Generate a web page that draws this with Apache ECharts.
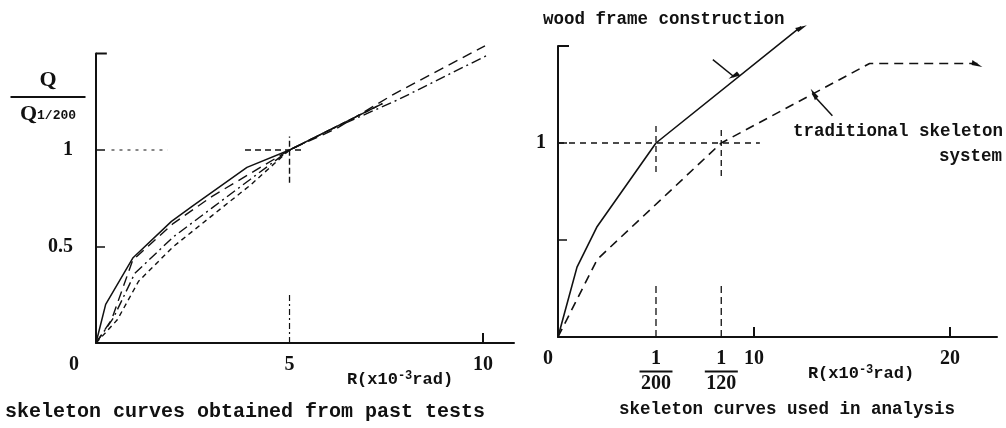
<!DOCTYPE html>
<html>
<head>
<meta charset="utf-8">
<script src="https://cdn.jsdelivr.net/npm/echarts@6/dist/echarts.min.js"></script>
<style>
  html, body { margin: 0; background: #fff; }
  #chart { width: 1006px; height: 428px; }
</style>
</head>
<body>
<div id="chart"></div>
<script>
// left: skeleton curves from past tests, R (x10^-3 rad) vs Q/Q1/200
const pastSolid = [[0, 0], [0.25, 0.2], [0.95, 0.44], [1.95, 0.63], [2.5, 0.71], [3.9, 0.91], [5, 1], [6, 1.1], [7.4, 1.24]];
const pastShortDash = [[0, 0], [0.4, 0.12], [0.95, 0.43], [2, 0.62], [3, 0.76], [4, 0.88], [5, 1], [6.2, 1.11], [7.7, 1.29], [10.05, 1.54]];
const pastDashDot = [[0, 0], [0.45, 0.13], [1, 0.36], [2, 0.55], [3, 0.7], [4, 0.85], [5, 1], [6, 1.1], [7.8, 1.26], [10.1, 1.49]];
const pastDash = [[0, 0], [0.55, 0.12], [1.1, 0.32], [2, 0.5], [3, 0.66], [4, 0.82], [5, 1], [6, 1.1], [7.4, 1.24]];

// right: skeleton curves used in analysis
const woodFrame = [[0, 0], [0.97, 0.36], [2, 0.57], [5, 1], [12.4, 1.6]];
const traditional = [[0, 0], [2, 0.4], [8.33, 1], [15.9, 1.41], [21.4, 1.41]];

// reference lines / leaders
const leftRefH1 = [[0.4, 1], [1.85, 1]];
const leftRefH2 = [[3.85, 1], [5.3, 1]];
const leftRefV1 = [[5, 0.83], [5, 1.07]];
const leftRefV2 = [[5, 0], [5, 0.26]];
const rightRefH = [[0, 1], [10.3, 1]];
const rightRef5a = [[5, 0.85], [5, 1.1]];
const rightRef5b = [[5, 0], [5, 0.27]];
const rightRef8a = [[8.33, 0.83], [8.33, 1.08]];
const rightRef8b = [[8.33, 0], [8.33, 0.28]];
const woodLeader = [[7.9, 1.43], [9.0, 1.34]];
const tradLeader = [[14.0, 1.14], [13.0, 1.25]];
const leftCap = [[0, 1.5], [0.28, 1.5]];
const rightCap = [[0, 1.5], [0.56, 1.5]];

const leftXLabels = [0, 5, 10];
const leftXTicks = [10];
const leftYLabels = [0.5, 1];
const rightXLabels = [0, 5, 25 / 3, 10, 20];
const rightXTicks = [10, 20];
const rightYLabels = [1];
const yTicks = [0.5, 1];

const INK = '#111';
const MONO = '"Liberation Mono", "DejaVu Sans Mono", monospace';
const SERIF = '"Liberation Serif", "DejaVu Serif", serif';
const barb = 'path://M0,0 L0,12 L-4,12 Z';

const line = (g, data, type, width) => ({
  type: 'line', xAxisIndex: g, yAxisIndex: g, data: data,
  symbol: 'none', clip: false, silent: true,
  lineStyle: { color: INK, width: width || 1.4, type: type || 'solid' }
});

const withBarb = (data, rot) => data.map((p, i) => i === data.length - 1
  ? { value: p, symbol: barb, symbolSize: [5, 11], symbolRotate: rot, itemStyle: { color: INK } }
  : p);

const numRich = {
  n: { fontFamily: SERIF, fontWeight: 'bold', fontSize: 20, color: INK, lineHeight: 20 },
  bar: { width: 33, height: 2, backgroundColor: INK, lineHeight: 5 },
  o0: { fontFamily: SERIF, fontWeight: 'bold', fontSize: 20, color: INK, padding: [0, 44, 0, 0] },
  o1: { fontFamily: SERIF, fontWeight: 'bold', fontSize: 20, color: INK, padding: [0, 20, 0, 0] }
};

const xAxisBase = (g, max, labels, ticks, fmt) => ({
  type: 'value', gridIndex: g, min: 0, max: max,
  splitLine: { show: false },
  axisLine: { show: true, onZero: false, lineStyle: { color: INK, width: 2 } },
  axisTick: { show: true, inside: true, length: 10, customValues: ticks, lineStyle: { color: INK, width: 2 } },
  axisLabel: { customValues: labels, margin: 12, formatter: fmt, rich: numRich,
    fontFamily: SERIF, fontWeight: 'bold', fontSize: 20, color: INK }
});

const yAxisBase = (g, labels, margin) => ({
  type: 'value', gridIndex: g, min: 0, max: 1.5,
  splitLine: { show: false },
  axisLine: { show: true, onZero: false, lineStyle: { color: INK, width: 2 } },
  axisTick: { show: true, inside: true, length: 9, customValues: yTicks, lineStyle: { color: INK, width: 1.5 } },
  axisLabel: { customValues: labels, margin: margin,
    fontFamily: SERIF, fontWeight: 'bold', fontSize: 20, color: INK }
});

const chart = echarts.init(document.getElementById('chart'));
chart.setOption({
  animation: false,
  backgroundColor: '#fff',
  grid: [
    { left: 96, top: 53.5, width: 418, height: 289.5, containLabel: false, outerBoundsMode: 'none' },
    { left: 558, top: 46, width: 439, height: 291, containLabel: false, outerBoundsMode: 'none' }
  ],
  xAxis: [
    xAxisBase(0, 10.8, leftXLabels, leftXTicks, v => v === 0 ? '{o0|0}' : '{n|' + v + '}'),
    xAxisBase(1, 22.4, rightXLabels, rightXTicks, v => {
      if (v === 0) return '{o1|0}';
      if (v === 5) return '{n|1}\n{bar| }\n{n|200}';
      if (Math.abs(v - 25 / 3) < 0.01) return '{n|1}\n{bar| }\n{n|120}';
      return '{n|' + v + '}';
    })
  ],
  yAxis: [yAxisBase(0, leftYLabels, 23), yAxisBase(1, rightYLabels, 12)],
  series: [
    line(0, pastSolid, 'solid', 1.5),
    line(0, pastShortDash, [10, 6], 1.4),
    line(0, pastDashDot, [10, 4, 2, 4], 1.4),
    line(0, pastDash, [5, 4], 1.4),
    line(0, leftRefH1, [3, 5], 1.2),
    line(0, leftRefH2, [6, 4], 1.4),
    line(0, leftRefV1, [6, 3], 1.4),
    line(0, leftRefV2, [6, 3, 2, 3], 1.2),
    line(0, leftCap, 'solid', 2),
    Object.assign(line(1, withBarb(woodFrame, -52), 'solid', 1.6), { symbol: 'none', showSymbol: true }),
    Object.assign(line(1, withBarb(traditional, -100), [9, 6], 1.6), { symbol: 'none', showSymbol: true }),
    Object.assign(line(1, withBarb(woodLeader, 130), 'solid', 1.5), { symbol: 'none', showSymbol: true }),
    Object.assign(line(1, withBarb(tradLeader, 45), 'solid', 1.5), { symbol: 'none', showSymbol: true }),
    line(1, rightRefH, [6, 5], 1.3),
    line(1, rightRef5a, [6, 4], 1.3),
    line(1, rightRef5b, [7, 4], 1.3),
    line(1, rightRef8a, [6, 4], 1.3),
    line(1, rightRef8b, [7, 4], 1.3),
    line(1, rightCap, 'solid', 2)
  ],
  graphic: [
    { type: 'text', x: 48, y: 66, silent: true, style: {
        text: '{q|Q}\n{bar| }\n{q|Q}{s|1/200}', align: 'center', textAlign: 'center',
        rich: {
          q: { fontFamily: SERIF, fontWeight: 'bold', fontSize: 22, fill: INK, color: INK, lineHeight: 28 },
          bar: { width: 75, height: 2, backgroundColor: INK, lineHeight: 6 },
          s: { fontFamily: MONO, fontWeight: 'bold', fontSize: 13, fill: INK, color: INK, verticalAlign: 'middle', lineHeight: 28, padding: [4, 0, 0, 0] }
        } } },
    { type: 'text', x: 400, y: 380, silent: true, style: {
        text: '{t|R(x10}{s|-3}{t|rad)}', align: 'center', textAlign: 'center',
        verticalAlign: 'middle', textVerticalAlign: 'middle',
        rich: {
          t: { fontFamily: MONO, fontWeight: 'bold', fontSize: 17, fill: INK, color: INK, lineHeight: 20 },
          s: { fontFamily: MONO, fontWeight: 'bold', fontSize: 12, fill: INK, color: INK, verticalAlign: 'top', lineHeight: 20 }
        } } },
    { type: 'text', x: 861, y: 374, silent: true, style: {
        text: '{t|R(x10}{s|-3}{t|rad)}', align: 'center', textAlign: 'center',
        verticalAlign: 'middle', textVerticalAlign: 'middle',
        rich: {
          t: { fontFamily: MONO, fontWeight: 'bold', fontSize: 17, fill: INK, color: INK, lineHeight: 20 },
          s: { fontFamily: MONO, fontWeight: 'bold', fontSize: 12, fill: INK, color: INK, verticalAlign: 'top', lineHeight: 20 }
        } } },
    { type: 'text', x: 245, y: 412, silent: true, style: {
        text: 'skeleton curves obtained from past tests', font: 'bold 20px ' + MONO, fill: INK,
        align: 'center', textAlign: 'center', verticalAlign: 'middle', textVerticalAlign: 'middle' } },
    { type: 'text', x: 787, y: 410, silent: true, style: {
        text: 'skeleton curves used in analysis', font: 'bold 17.5px ' + MONO, fill: INK,
        align: 'center', textAlign: 'center', verticalAlign: 'middle', textVerticalAlign: 'middle' } },
    { type: 'text', x: 543, y: 20, silent: true, style: {
        text: 'wood frame construction', font: 'bold 17.5px ' + MONO, fill: INK,
        align: 'left', textAlign: 'left', verticalAlign: 'middle', textVerticalAlign: 'middle' } },
    { type: 'text', x: 793, y: 132, silent: true, style: {
        text: 'traditional skeleton', font: 'bold 17.5px ' + MONO, fill: INK,
        align: 'left', textAlign: 'left', verticalAlign: 'middle', textVerticalAlign: 'middle' } },
    { type: 'text', x: 1002, y: 157, silent: true, style: {
        text: 'system', font: 'bold 17.5px ' + MONO, fill: INK,
        align: 'right', textAlign: 'right', verticalAlign: 'middle', textVerticalAlign: 'middle' } }
  ]
});
</script>
</body>
</html>
